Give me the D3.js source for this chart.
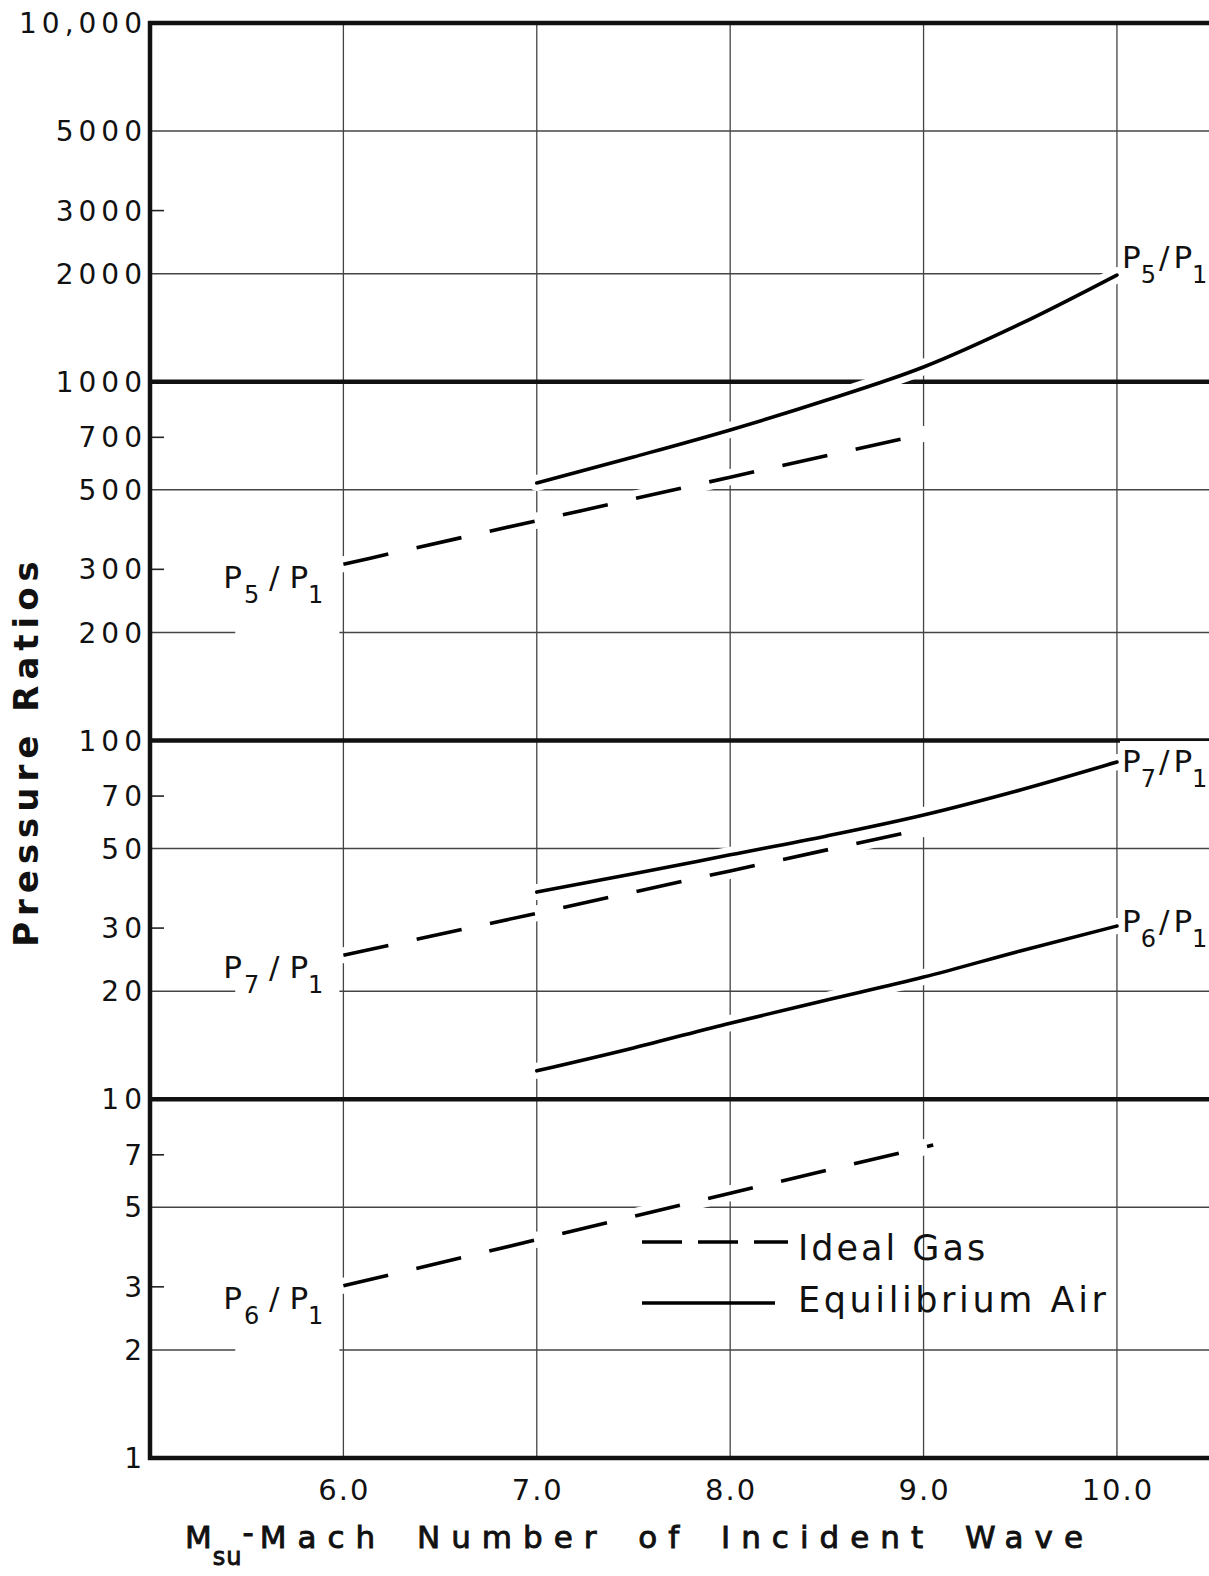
<!DOCTYPE html>
<html>
<head>
<meta charset="utf-8">
<script src="https://cdn.jsdelivr.net/npm/d3@7"></script>
<style>
body { margin: 0; background: #fff; }
svg { display: block; font-family: 'DejaVu Sans', sans-serif; }
</style>
</head>
<body>
<svg id="main-svg" width="1209" height="1576"></svg>
<script>
// values (pressure ratios vs. incident Mach number)
const machIdeal = [6.0, 7.0, 8.0, 9.0];
const machIdealP6 = [6.0, 7.0, 8.0, 9.05];
const machEq = [7.0, 7.5, 8.0, 8.5, 9.0, 9.5, 10.0];

const p5Ideal = [310, 410, 542, 715];
const p7Ideal = [25.2, 33.0, 43.3, 56.7];
const p6Ideal = [3.02, 4.06, 5.47, 7.45];

const p5Eq = [522, 617, 734, 889, 1099, 1449, 1984];
const p7Eq = [37.8, 42.5, 48.0, 54.2, 62.0, 72.8, 87.1];
const p6Eq = [12.0, 13.9, 16.3, 18.9, 21.9, 25.9, 30.4];

const xTicks = [6, 7, 8, 9, 10];
const xTickLabels = ['6.0', '7.0', '8.0', '9.0', '10.0'];
const yTicks = [1, 2, 3, 5, 7, 10, 20, 30, 50, 70, 100, 200, 300, 500, 700, 1000, 2000, 3000, 5000, 10000];
const yTickLabels = ['1', '2', '3', '5', '7', '10', '20', '30', '50', '70', '100', '200', '300', '500', '700', '1000', '2000', '3000', '5000', '10,000'];
const gridMajor = [1, 10, 100, 1000, 10000];
const gridMinor = [2, 5, 20, 50, 200, 500, 2000, 5000];
const tickShort = [3, 7, 30, 70, 300, 700, 3000];

const W = 1209;
var svg = d3.select('#main-svg');

let x = d3.scaleLinear().domain([5, 10.476]).range([150, W]);
let y = d3.scaleLog().domain([1, 10000]).range([1458, 23]);

svg.append('rect').attr('width', W).attr('height', 1576).attr('fill', '#fff');

// grid
let grid = svg.append('g').attr('id', 'grid');

grid.selectAll('.vgrid')
	.data(xTicks)
	.enter().append('line')
	.attr('x1', d => x(d)).attr('x2', d => x(d))
	.attr('y1', y(10000)).attr('y2', y(1))
	.attr('stroke', '#444').attr('stroke-width', 1.3);

grid.selectAll('.hminor')
	.data(gridMinor)
	.enter().append('line')
	.attr('x1', x(5)).attr('x2', W)
	.attr('y1', d => y(d)).attr('y2', d => y(d))
	.attr('stroke', '#444').attr('stroke-width', 1.3);

grid.selectAll('.hshort')
	.data(tickShort)
	.enter().append('line')
	.attr('x1', x(5)).attr('x2', x(5) + 14)
	.attr('y1', d => y(d)).attr('y2', d => y(d))
	.attr('stroke', '#222').attr('stroke-width', 1.6);

grid.selectAll('.hmajor')
	.data(gridMajor)
	.enter().append('line')
	.attr('x1', x(5) - 2).attr('x2', W)
	.attr('y1', d => y(d)).attr('y2', d => y(d))
	.attr('stroke', '#111').attr('stroke-width', 4.5);

grid.append('line')
	.attr('x1', x(5)).attr('x2', x(5))
	.attr('y1', y(10000) - 2).attr('y2', y(1) + 2)
	.attr('stroke', '#111').attr('stroke-width', 4.5);

// tick labels
svg.append('g')
	.selectAll('text')
	.data(yTicks)
	.enter().append('text')
	.attr('x', x(5) - 3)
	.attr('y', d => y(d))
	.attr('dy', '0.36em')
	.attr('text-anchor', 'end')
	.attr('font-size', 28)
	.attr('letter-spacing', 5)
	.attr('fill', '#111')
	.text((d, i) => yTickLabels[i]);

svg.append('g')
	.selectAll('text')
	.data(xTicks)
	.enter().append('text')
	.attr('x', d => x(d) + 1)
	.attr('y', y(1) + 42)
	.attr('text-anchor', 'middle')
	.attr('font-size', 29)
	.attr('letter-spacing', 2)
	.attr('fill', '#111')
	.text((d, i) => xTickLabels[i]);

// curves
const series = [
	{ mach: machIdeal, ratio: p5Ideal, dashed: true },
	{ mach: machIdeal, ratio: p7Ideal, dashed: true },
	{ mach: machIdealP6, ratio: p6Ideal, dashed: true },
	{ mach: machEq, ratio: p5Eq, dashed: false },
	{ mach: machEq, ratio: p7Eq, dashed: false },
	{ mach: machEq, ratio: p6Eq, dashed: false }
];

let line = d3.line()
	.x(d => x(d[0]))
	.y(d => y(d[1]))
	.curve(d3.curveMonotoneX);

function points(s) {
	return s.mach.map((m, i) => [m, s.ratio[i]]);
}

svg.append('g')
	.attr('id', 'halos')
	.selectAll('path')
	.data(series)
	.enter().append('path')
	.attr('d', d => line(points(d)))
	.attr('fill', 'none')
	.attr('stroke', '#fff')
	.attr('stroke-width', 16)
	.attr('stroke-linecap', 'round');

svg.append('g')
	.attr('id', 'curves')
	.selectAll('path')
	.data(series)
	.enter().append('path')
	.attr('d', d => line(points(d)))
	.attr('fill', 'none')
	.attr('stroke', '#000')
	.attr('stroke-width', 3.6)
	.attr('stroke-dasharray', d => d.dashed ? '46,29' : null)
	.attr('stroke-linecap', d => d.dashed ? 'butt' : 'round');

// P_n / P_1 labels
let labels = svg.append('g').attr('id', 'labels');

function ratioLabel(sub, px, py, anchor, tight) {
	let bg = labels.append('rect').attr('fill', '#fff');
	let t = labels.append('text')
		.attr('x', px).attr('y', py)
		.attr('font-size', 31)
		.attr('text-anchor', anchor)
		.attr('fill', '#111');
	t.append('tspan').text('P');
	t.append('tspan').attr('font-size', 24).attr('dy', 15).attr('dx', tight ? 0 : 2).text(sub);
	t.append('tspan').attr('dy', -15).attr('dx', tight ? 3 : 0).text(tight ? '/' : ' / ');
	t.append('tspan').attr('dx', tight ? 4 : 0).text('P');
	t.append('tspan').attr('font-size', 24).attr('dy', 15).text('1');
	let b = t.node().getBBox();
	bg.attr('x', b.x + (tight ? -2 : 12)).attr('y', b.y - 2)
		.attr('width', b.width + (tight ? 10 : 4))
		.attr('height', b.height + (tight ? 4 : 30));
}

ratioLabel('5', x(6) - 20, y(p5Ideal[0]) + 24, 'end', false);
ratioLabel('7', x(6) - 20, y(p7Ideal[0]) + 23, 'end', false);
ratioLabel('6', x(6) - 20, y(p6Ideal[0]) + 23, 'end', false);
ratioLabel('5', x(10) + 5, y(p5Eq[p5Eq.length - 1]) - 7, 'start', true);
ratioLabel('7', x(10) + 5, y(p7Eq[p7Eq.length - 1]) + 10, 'start', true);
ratioLabel('6', x(10) + 5, y(p6Eq[p6Eq.length - 1]) + 6, 'start', true);

// legend
let legend = svg.append('g').attr('transform', 'translate(642,1242)');
legend.append('line')
	.attr('x1', 0).attr('x2', 146).attr('y1', 0).attr('y2', 0)
	.attr('stroke', '#000').attr('stroke-width', 3.6)
	.attr('stroke-dasharray', '40,16');
legend.append('text')
	.attr('x', 156).attr('y', 18)
	.attr('font-size', 35).attr('letter-spacing', 3)
	.attr('fill', '#111')
	.text('Ideal Gas');
legend.append('line')
	.attr('x1', 0).attr('x2', 133).attr('y1', 61).attr('y2', 61)
	.attr('stroke', '#000').attr('stroke-width', 3.6);
legend.append('text')
	.attr('x', 156).attr('y', 70)
	.attr('font-size', 35).attr('letter-spacing', 3.6)
	.attr('fill', '#111')
	.text('Equilibrium Air');

// axis titles
svg.append('text')
	.attr('transform', 'translate(38,751) rotate(-90)')
	.attr('text-anchor', 'middle')
	.attr('font-size', 34)
	.attr('font-weight', 'bold')
	.attr('letter-spacing', 6)
	.attr('fill', '#111')
	.text('Pressure Ratios');

let xt = svg.append('text')
	.attr('x', 185).attr('y', 1548)
	.attr('font-size', 31)
	.attr('letter-spacing', 11)
	.attr('word-spacing', 10)
	.attr('fill', '#111')
	.attr('stroke', '#111')
	.attr('stroke-width', 0.9);
xt.append('tspan').attr('letter-spacing', 0).text('M');
xt.append('tspan').attr('font-size', 24).attr('letter-spacing', 1).attr('dy', 17).attr('dx', 1).text('su');
xt.append('tspan').attr('dy', -22).attr('dx', 0).attr('letter-spacing', 0).text('-');
xt.append('tspan').attr('dy', 5).attr('dx', 6).text('Mach Number of Incident Wave');
</script>
</body>
</html>
